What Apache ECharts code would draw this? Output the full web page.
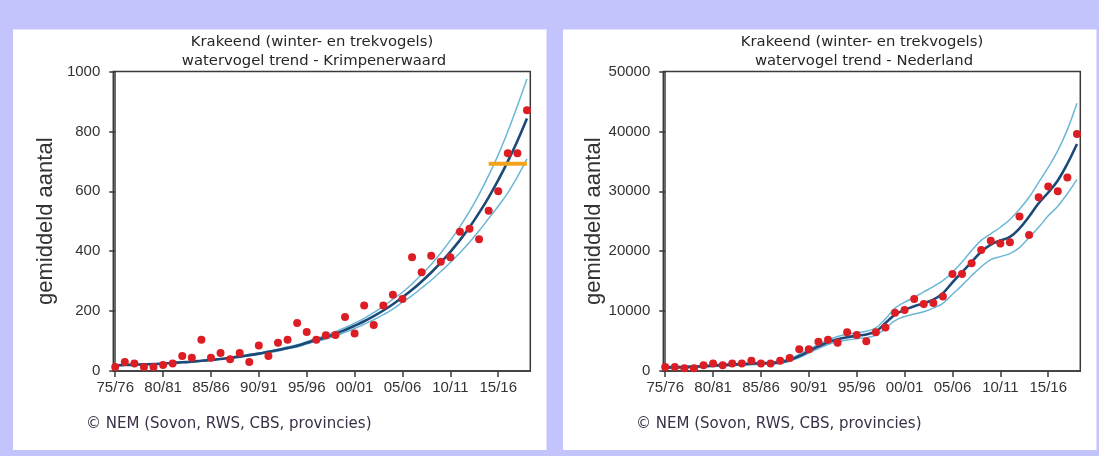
<!DOCTYPE html>
<html>
<head>
<meta charset="utf-8">
<script src="https://cdn.jsdelivr.net/npm/echarts@6/dist/echarts.min.js"></script>
<style>
html,body{margin:0;padding:0;background:#c4c4fc;}
#c{width:1099px;height:456px;}
</style>
</head>
<body>
<div id="c"></div>
<script>
// ---------- data ----------
const seasons = ['75/76','76/77','77/78','78/79','79/80','80/81','81/82','82/83','83/84','84/85',
  '85/86','86/87','87/88','88/89','89/90','90/91','91/92','92/93','93/94','94/95',
  '95/96','96/97','97/98','98/99','99/00','00/01','01/02','02/03','03/04','04/05',
  '05/06','06/07','07/08','08/09','09/10','10/11','11/12','12/13','13/14','14/15',
  '15/16','16/17','17/18','18/19'];
const tickLabels = ['75/76','80/81','85/86','90/91','95/96','00/01','05/06','10/11','15/16'];

const titleLine1 = 'Krakeend (winter- en trekvogels)';
const titleKrimp = 'watervogel trend - Krimpenerwaard';
const titleNL = 'watervogel trend - Nederland';
const yAxisName = 'gemiddeld aantal';
const copyright = '\u00A9 NEM (Sovon, RWS, CBS, provincies)';

// Krimpenerwaard
const krimpCounts = [13,30,25,13,13,20,25,50,44,104,44,60,39,60,30,85,50,94,104,160,
  130,104,119,120,180,125,219,154,219,255,240,380,330,385,365,380,465,475,440,535,
  600,727,727,871];
const krimpTrend = [19,20,21,22,23,25,27,29,31,34,37,40,44,48,53,58,64,70,77,84,
  94,104,113,124,137,151,166,183,202,223,246,271,299,329,362,398,437,480,528,580,
  637,700,768,843];
const krimpUpper = [20,21,22,23,24,26,28,30,32,35,38,41,45,50,55,60,66,73,80,88,
  98,109,119,131,145,160,176,195,216,240,263,291,322,356,394,436,482,533,590,653,
  722,800,885,975];
const krimpLower = [18,19,20,21,22,24,26,28,30,33,36,39,43,46,51,56,62,67,74,80,
  90,99,107,117,129,142,156,171,188,207,230,252,277,303,332,362,395,430,468,509,
  550,595,648,708];
const krimpTargetSeasons = ['14/15','18/19'];
const krimpTargetLevel = 692;

// Nederland
const nlCounts = [650,650,450,450,950,1250,950,1250,1250,1700,1250,1250,1700,2150,3650,3650,4900,5200,4700,6450,
  6000,4950,6450,7250,9730,10200,12000,11180,11350,12450,16200,16200,18000,20200,21750,21280,21500,25800,22700,29000,
  30800,30000,32300,39560];
const nlTrend = [600,620,660,720,800,890,980,1060,1140,1210,1270,1330,1480,1850,2500,3300,4100,4800,5300,5650,
  5900,6100,6600,8000,9400,10200,10800,11300,11900,13000,14800,16500,18200,19900,21100,21800,22400,23800,25800,28000,
  29800,31800,34600,37900];
const nlUpper = [750,770,800,860,950,1050,1140,1220,1300,1380,1440,1500,1680,2080,2780,3620,4450,5200,5750,6150,
  6400,6650,7200,8700,10500,11500,12300,13200,14100,15100,16500,18200,20100,21800,22900,24000,25300,27000,29000,31500,
  34000,36800,40300,44700];
const nlLower = [450,470,520,580,660,740,830,900,980,1050,1100,1160,1290,1630,2240,3000,3760,4420,4880,5180,
  5400,5550,6000,7100,8400,9100,9500,9900,10500,11300,12800,14300,15900,17400,18600,19100,19600,20600,22300,24000,
  25900,27500,29600,32000];

// ---------- chart ----------
const tickPos = tickLabels.map(l => seasons.indexOf(l));
const pts = arr => arr.map((v, i) => [i, v]);

const FONT_NUM = '"Liberation Sans", Arial, sans-serif';
const FONT_TXT = '"DejaVu Sans", Verdana, sans-serif';
const AXIS_COL = '#3a3a3a';

const panels = [
  {off: 0, max: 1000, interval: 200, sub: titleKrimp, counts: krimpCounts, trend: krimpTrend, upper: krimpUpper, lower: krimpLower, target: true},
  {off: 550, max: 50000, interval: 10000, sub: titleNL, counts: nlCounts, trend: nlTrend, upper: nlUpper, lower: nlLower, target: false}
];

const grids = [], xAxes = [], yAxes = [], series = [], graphics = [];

panels.forEach((p, k) => {
  const o = p.off;
  graphics.push({type: 'rect', z: -10, shape: {x: 13 + o, y: 29.5, width: 533.5, height: 420.5}, style: {fill: '#ffffff'}});
  graphics.push({type: 'text', z: 10, style: {text: titleLine1, x: 312 + o, y: 42, textAlign: 'center', textVerticalAlign: 'middle', font: '14.8px ' + FONT_TXT, fill: '#262626'}});
  graphics.push({type: 'text', z: 10, style: {text: p.sub, x: 314 + o, y: 61, textAlign: 'center', textVerticalAlign: 'middle', font: '14.8px ' + FONT_TXT, fill: '#262626'}});
  graphics.push({type: 'text', z: 10, style: {text: copyright, x: 86 + o, y: 424.5, textAlign: 'left', textVerticalAlign: 'middle', font: '15px ' + FONT_TXT, fill: '#3a3046'}});

  grids.push({left: 113.3 + o, top: 71.5, width: 417, height: 299.5, show: true, borderColor: AXIS_COL, borderWidth: 1.5, backgroundColor: 'transparent'});
  xAxes.push({
    type: 'value', gridIndex: k, min: -0.2, max: 43.35,
    axisLine: {show: true, onZero: false, lineStyle: {color: AXIS_COL, width: 1.5}},
    axisTick: {show: true, length: 6, customValues: tickPos, lineStyle: {color: AXIS_COL, width: 1.5}},
    axisLabel: {customValues: tickPos, formatter: v => seasons[Math.round(v)] || '', margin: 9,
      fontFamily: FONT_NUM, fontSize: 15, color: '#333'},
    splitLine: {show: false}
  });
  yAxes.push({
    type: 'value', gridIndex: k, min: 0, max: p.max, interval: p.interval,
    name: yAxisName, nameLocation: 'middle', nameGap: 56, nameRotate: 90,
    nameTextStyle: {fontFamily: FONT_NUM, fontSize: 22, color: '#333'},
    axisLine: {show: true, lineStyle: {color: AXIS_COL, width: 1.5}},
    axisTick: {show: true, length: 6, lineStyle: {color: AXIS_COL, width: 1.5}},
    axisLabel: {formatter: v => String(v), margin: 13, fontFamily: FONT_NUM, fontSize: 15, color: '#333'},
    splitLine: {show: false}
  });
  const lineBase = {type: 'line', xAxisIndex: k, yAxisIndex: k, showSymbol: false, symbol: 'none', smooth: 0.4, silent: true};
  series.push(Object.assign({}, lineBase, {data: pts(p.upper), lineStyle: {color: '#6cb6d6', width: 1.5}, z: 2}));
  series.push(Object.assign({}, lineBase, {data: pts(p.lower), lineStyle: {color: '#6cb6d6', width: 1.5}, z: 2}));
  series.push(Object.assign({}, lineBase, {data: pts(p.trend), lineStyle: {color: '#1b4a78', width: 2.6}, z: 3}));
  if (p.target) {
    series.push({type: 'line', xAxisIndex: k, yAxisIndex: k, symbol: 'none', silent: true, z: 4,
      data: krimpTargetSeasons.map(s => [seasons.indexOf(s), krimpTargetLevel]),
      lineStyle: {color: '#f2a31b', width: 4}});
  }
  series.push({type: 'scatter', xAxisIndex: k, yAxisIndex: k, data: pts(p.counts), symbolSize: 8,
    itemStyle: {color: '#dc1e24', opacity: 1}, z: 5, silent: true});
});

const chart = echarts.init(document.getElementById('c'));
chart.setOption({
  animation: false,
  backgroundColor: '#c4c4fc',
  grid: grids, xAxis: xAxes, yAxis: yAxes, series: series,
  graphic: {elements: graphics}
});
</script>
</body>
</html>
